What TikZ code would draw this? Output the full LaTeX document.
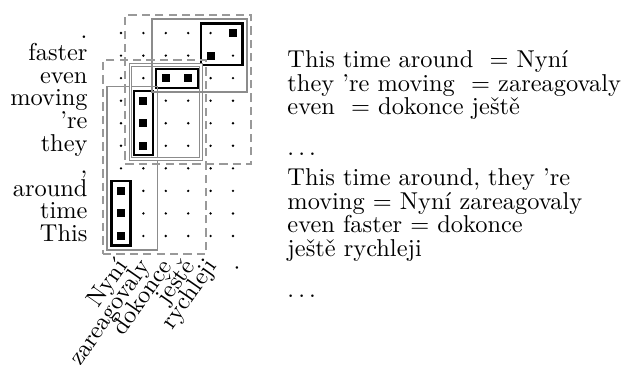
\documentclass[tikz,border=0pt]{standalone}
\usetikzlibrary{fit,calc}
\begin{document}
\begin{tikzpicture}[x=0.41pt,y=-0.41pt,
  griddot/.style={circle,fill=black,inner sep=0pt,minimum size=1.1pt},
  link/.style={rectangle,fill=black,inner sep=0pt,minimum size=3.3pt},
  minpair/.style={draw=black,line width=0.9pt,inner sep=3.9pt},
  pair/.style={draw=black!45,line width=0.6pt,inner sep=5.75pt},
  doublepair/.style={draw=black!45,line width=0.45pt,double=white,double distance=0.7pt,inner sep=5.3pt},
  bigpair/.style={draw=black!40,line width=0.8pt,dash pattern=on 3.4pt off 2.1pt,inner sep=7.4pt},
  srcword/.style={anchor=mid east,inner sep=0pt},
  tgtword/.style={anchor=mid east,inner sep=0pt,rotate=55},
  textline/.style={anchor=base west,inner sep=0pt}]
\useasboundingbox (0,0) rectangle (624,365);

% alignment grid: column i = target word, row j = source word (bottom to top)
\foreach \i in {1,...,6}
  \foreach \j in {1,...,10}
    \coordinate (c-\i-\j) at ({121+22.4*(\i-1)},{236-22.55*(\j-1)});
\foreach \i in {1,...,6}
  \foreach \j in {1,...,10}
    \node[griddot] (d-\i-\j) at (c-\i-\j) {};

% word alignment points
\foreach \i/\j in {1/1,1/2,1/3,2/5,2/6,2/7,3/8,4/8,5/9,6/10}
  \node[link] (a-\i-\j) at (c-\i-\j) {};

% source words
\foreach \w [count=\j] in {This,time,around,{,},they,'re,moving,even,faster,.}
  \node[srcword] (e-\j) at ($(c-1-\j)+(-33,0)$) {\w};

% target words
\foreach \w [count=\i] in {Nyní,zareagovaly,dokonce,ještě,rychleji,.}
  \node[tgtword] (f-\i) at ($(c-\i-1)+(3,27)$) {\w};

% minimal phrase pairs
\node[minpair,fit=(c-1-1)(c-1-3)] (m1) {};
\node[minpair,fit=(c-2-5)(c-2-7)] (m2) {};
\node[minpair,fit=(c-3-8)(c-4-8)] (m3) {};
\node[minpair,fit=(c-5-9)(c-6-10)] (m4) {};

% larger phrase pairs
\node[pair,fit=(c-1-1)(c-2-7)] (p1) {};
\node[doublepair,fit=(c-2-5)(c-4-8)] (p2) {};
\node[pair,fit=(c-3-8)(c-6-10)] (p3) {};
\node[bigpair,fit=(c-1-1)(c-4-8)] (q1) {};
\node[bigpair,fit=(c-2-5)(c-6-10)] (q2) {};

% extracted phrase pairs
\node[textline] (t1) at (287,67.7) {This time around~ = Nyní};
\node[textline] (t2) at (287,91.7) {they 're moving~ = zareagovaly};
\node[textline] (t3) at (287,115) {even~ = dokonce ještě};
\node[textline] (t4) at (287,156) {$\ldots$};
\node[textline] (t5) at (287,186) {This time around, they 're};
\node[textline] (t6) at (287,210) {moving = Nyní zareagovaly};
\node[textline] (t7) at (287,233) {even faster = dokonce};
\node[textline] (t8) at (287,257) {ještě rychleji};
\node[textline] (t9) at (287,298) {$\ldots$};
\end{tikzpicture}
\end{document}
